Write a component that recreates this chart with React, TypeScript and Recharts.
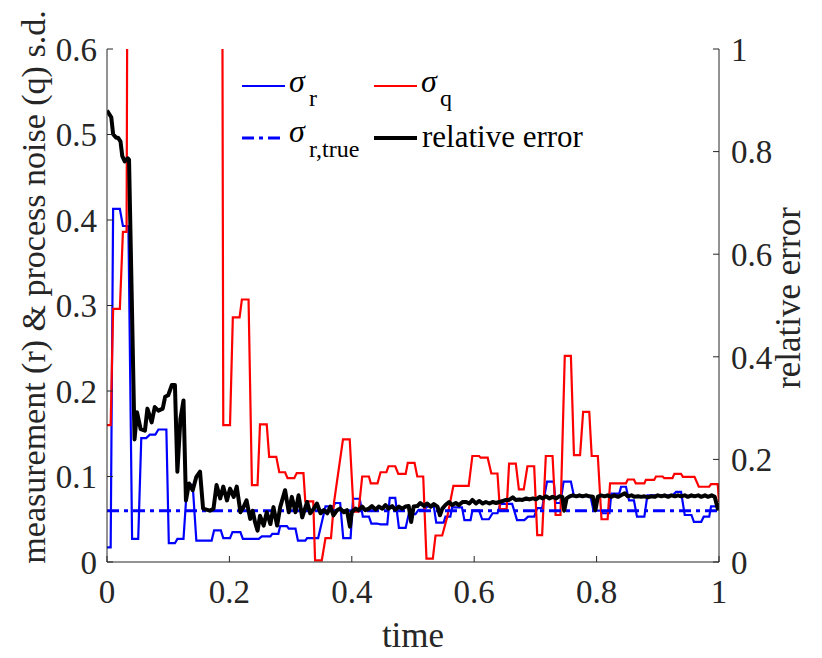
import React from "react";
import { LineChart, Line, XAxis, YAxis, Customized } from "recharts";

// axis ticks
const timeTicks = [0, 0.2, 0.4, 0.6, 0.8, 1];
const noiseTicks = [0, 0.1, 0.2, 0.3, 0.4, 0.5, 0.6];
const errorTicks = [0, 0.2, 0.4, 0.6, 0.8, 1];

// [time, s.d.] for the measurement noise estimate (left axis)
const sigmaR: [number, number][] = [
  [0, 0.017], [0.006, 0.017], [0.01, 0.413], [0.021, 0.413], [0.026, 0.393], [0.035, 0.393],
  [0.041, 0.027], [0.051, 0.027], [0.056, 0.145], [0.064, 0.145], [0.07, 0.149], [0.079, 0.149],
  [0.084, 0.155], [0.097, 0.155], [0.101, 0.022], [0.111, 0.022], [0.115, 0.027], [0.125, 0.027],
  [0.131, 0.092], [0.14, 0.09], [0.146, 0.025], [0.171, 0.025], [0.175, 0.037], [0.186, 0.037],
  [0.19, 0.028], [0.201, 0.028], [0.205, 0.035], [0.218, 0.035], [0.222, 0.027], [0.248, 0.027],
  [0.253, 0.03], [0.267, 0.03], [0.27, 0.033], [0.28, 0.033], [0.283, 0.042], [0.294, 0.042],
  [0.297, 0.039], [0.308, 0.039], [0.312, 0.025], [0.324, 0.025], [0.327, 0.028], [0.345, 0.028],
  [0.357, 0.065], [0.37, 0.065], [0.373, 0.069], [0.381, 0.069], [0.386, 0.028], [0.398, 0.028],
  [0.402, 0.074], [0.413, 0.074], [0.418, 0.053], [0.428, 0.053], [0.432, 0.045], [0.441, 0.045],
  [0.447, 0.044], [0.458, 0.044], [0.462, 0.075], [0.471, 0.075], [0.477, 0.04], [0.488, 0.04],
  [0.493, 0.056], [0.504, 0.056], [0.509, 0.061], [0.517, 0.061], [0.524, 0.065], [0.534, 0.065],
  [0.538, 0.046], [0.55, 0.046], [0.553, 0.053], [0.561, 0.053], [0.564, 0.064], [0.58, 0.064],
  [0.584, 0.049], [0.594, 0.049], [0.597, 0.06], [0.608, 0.06], [0.613, 0.05], [0.624, 0.05],
  [0.63, 0.057], [0.638, 0.057], [0.643, 0.068], [0.662, 0.068], [0.67, 0.049], [0.682, 0.049],
  [0.688, 0.053], [0.698, 0.053], [0.703, 0.063], [0.711, 0.063], [0.719, 0.094], [0.73, 0.094],
  [0.733, 0.069], [0.741, 0.069], [0.746, 0.094], [0.758, 0.094], [0.763, 0.077], [0.79, 0.077],
  [0.795, 0.06], [0.807, 0.06], [0.81, 0.057], [0.821, 0.057], [0.824, 0.08], [0.837, 0.08],
  [0.84, 0.088], [0.848, 0.088], [0.853, 0.072], [0.861, 0.072], [0.866, 0.053], [0.878, 0.053],
  [0.883, 0.078], [0.924, 0.078], [0.93, 0.082], [0.938, 0.082], [0.944, 0.055], [0.955, 0.055],
  [0.959, 0.047], [0.971, 0.047], [0.975, 0.053], [0.984, 0.053], [0.987, 0.065], [1, 0.065],
];

// [time, s.d.] for the process noise estimate (left axis, runs off the top early on)
const sigmaQ: [number, number][] = [
  [0, 0.16], [0.006, 0.16], [0.01, 0.296], [0.021, 0.296], [0.026, 0.386], [0.032, 0.386],
  [0.0345, 1.0], [0.1875, 1.0], [0.19, 0.16], [0.201, 0.16], [0.2056, 0.286], [0.2166, 0.286],
  [0.2204, 0.307], [0.2313, 0.307], [0.2368, 0.09], [0.246, 0.09], [0.25, 0.161], [0.261, 0.161],
  [0.265, 0.123], [0.2766, 0.123], [0.2815, 0.105], [0.291, 0.105], [0.295, 0.098], [0.306, 0.098],
  [0.31, 0.104], [0.321, 0.104], [0.324, 0.071], [0.337, 0.071], [0.34, 0.002], [0.351, 0.002],
  [0.357, 0.028], [0.366, 0.028], [0.371, 0.07], [0.3856, 0.1435], [0.3966, 0.1435], [0.403, 0.059],
  [0.411, 0.059], [0.417, 0.1], [0.428, 0.1], [0.431, 0.092], [0.442, 0.092], [0.447, 0.105],
  [0.4566, 0.105], [0.46, 0.112], [0.471, 0.112], [0.476, 0.103], [0.488, 0.103], [0.4915, 0.116],
  [0.5025, 0.116], [0.507, 0.1], [0.5167, 0.1], [0.522, 0.004], [0.5324, 0.004], [0.5368, 0.031],
  [0.5477, 0.031], [0.556, 0.053], [0.566, 0.089], [0.591, 0.089], [0.597, 0.124], [0.608, 0.124],
  [0.6105, 0.122], [0.622, 0.122], [0.628, 0.1035], [0.638, 0.1035], [0.642, 0.062], [0.653, 0.062],
  [0.657, 0.115], [0.668, 0.115], [0.673, 0.085], [0.681, 0.085], [0.687, 0.112], [0.698, 0.112],
  [0.703, 0.0315], [0.711, 0.0315], [0.717, 0.124], [0.728, 0.124], [0.733, 0.055], [0.741, 0.055],
  [0.748, 0.241], [0.758, 0.241], [0.763, 0.125], [0.773, 0.125], [0.778, 0.1755], [0.788, 0.1755],
  [0.792, 0.124], [0.802, 0.124], [0.808, 0.05], [0.818, 0.05], [0.822, 0.092], [0.848, 0.092],
  [0.851, 0.0965], [0.861, 0.0965], [0.864, 0.092], [0.878, 0.092], [0.8805, 0.096], [0.894, 0.096],
  [0.897, 0.1], [0.908, 0.1], [0.9105, 0.098], [0.924, 0.098], [0.927, 0.103], [0.938, 0.103],
  [0.941, 0.0996], [0.96, 0.0996], [0.967, 0.088], [0.984, 0.088], [0.987, 0.091], [0.998, 0.091],
  [1, 0.07],
];

// true measurement noise s.d.
const sigmaRTrue: [number, number][] = [
  [0, 0.06],
  [1, 0.06],
];

// [time, relative error] (right axis)
const relError: [number, number][] = [
  [0, 0.88], [0.007, 0.867], [0.01, 0.834], [0.015, 0.827], [0.018, 0.827], [0.022, 0.82],
  [0.025, 0.791], [0.029, 0.781], [0.034, 0.787], [0.036, 0.784], [0.045, 0.239], [0.049, 0.292],
  [0.055, 0.259], [0.062, 0.256], [0.066, 0.299], [0.073, 0.272], [0.078, 0.302], [0.084, 0.295],
  [0.091, 0.299], [0.095, 0.322], [0.1, 0.325], [0.106, 0.345], [0.111, 0.345], [0.115, 0.176],
  [0.12, 0.279], [0.125, 0.315], [0.129, 0.12], [0.134, 0.153], [0.14, 0.14], [0.146, 0.166],
  [0.152, 0.176], [0.157, 0.104], [0.168, 0.1], [0.174, 0.104], [0.179, 0.15], [0.185, 0.124],
  [0.19, 0.147], [0.196, 0.12], [0.201, 0.143], [0.207, 0.127], [0.212, 0.147], [0.218, 0.097],
  [0.223, 0.107], [0.228, 0.12], [0.234, 0.084], [0.238, 0.1], [0.242, 0.077], [0.246, 0.061],
  [0.25, 0.09], [0.256, 0.071], [0.261, 0.097], [0.267, 0.074], [0.272, 0.107], [0.278, 0.071],
  [0.283, 0.107], [0.291, 0.14], [0.297, 0.097], [0.302, 0.127], [0.308, 0.097], [0.313, 0.13],
  [0.319, 0.087], [0.327, 0.117], [0.332, 0.095], [0.338, 0.104], [0.343, 0.114], [0.349, 0.095],
  [0.354, 0.101], [0.36, 0.095], [0.365, 0.108], [0.37, 0.091], [0.376, 0.101], [0.381, 0.104],
  [0.387, 0.097], [0.392, 0.101], [0.397, 0.069], [0.4, 0.097], [0.406, 0.104], [0.411, 0.101],
  [0.417, 0.108], [0.422, 0.101], [0.428, 0.104], [0.433, 0.109], [0.439, 0.102], [0.444, 0.108],
  [0.45, 0.104], [0.455, 0.111], [0.46, 0.104], [0.466, 0.109], [0.471, 0.102], [0.477, 0.108],
  [0.482, 0.104], [0.488, 0.108], [0.493, 0.109], [0.497, 0.078], [0.501, 0.108], [0.507, 0.109],
  [0.512, 0.115], [0.518, 0.109], [0.523, 0.114], [0.529, 0.108], [0.534, 0.113], [0.54, 0.108],
  [0.544, 0.091], [0.548, 0.104], [0.553, 0.111], [0.559, 0.117], [0.564, 0.111], [0.57, 0.115],
  [0.575, 0.111], [0.581, 0.117], [0.587, 0.117], [0.592, 0.114], [0.597, 0.121], [0.603, 0.114],
  [0.608, 0.119], [0.614, 0.114], [0.619, 0.117], [0.625, 0.114], [0.63, 0.117], [0.636, 0.115],
  [0.641, 0.117], [0.647, 0.119], [0.652, 0.121], [0.657, 0.121], [0.663, 0.126], [0.668, 0.121],
  [0.674, 0.122], [0.679, 0.121], [0.685, 0.124], [0.69, 0.122], [0.696, 0.124], [0.701, 0.122],
  [0.707, 0.127], [0.712, 0.124], [0.717, 0.128], [0.723, 0.124], [0.728, 0.127], [0.734, 0.124],
  [0.739, 0.128], [0.744, 0.127], [0.747, 0.1], [0.751, 0.124], [0.756, 0.128], [0.761, 0.13],
  [0.767, 0.128], [0.772, 0.13], [0.777, 0.128], [0.783, 0.13], [0.788, 0.128], [0.794, 0.127],
  [0.798, 0.101], [0.802, 0.127], [0.807, 0.13], [0.813, 0.128], [0.818, 0.13], [0.824, 0.127],
  [0.829, 0.13], [0.835, 0.127], [0.84, 0.13], [0.846, 0.134], [0.851, 0.128], [0.857, 0.13],
  [0.862, 0.127], [0.868, 0.128], [0.873, 0.127], [0.878, 0.128], [0.884, 0.126], [0.889, 0.128],
  [0.895, 0.127], [0.9, 0.13], [0.906, 0.128], [0.911, 0.13], [0.917, 0.127], [0.922, 0.13],
  [0.928, 0.128], [0.933, 0.13], [0.938, 0.128], [0.944, 0.13], [0.949, 0.127], [0.955, 0.13],
  [0.96, 0.128], [0.966, 0.13], [0.971, 0.127], [0.977, 0.13], [0.982, 0.127], [0.988, 0.13],
  [0.993, 0.127], [0.998, 0.104], [1, 0.115],
];

const toPoints = (pairs: [number, number][]) => pairs.map(([t, v]) => ({ t, v }));

const AXIS = "#262626";
const SERIF = "'Liberation Serif', 'Times New Roman', serif";
const DASH_DOT = "12 5 4 5";

// MATLAB-style inward ticks: negative tick size, margin pushes labels back out
const tickStyle = { fill: AXIS, fontSize: 33, fontFamily: SERIF };

function Annotations() {
  return (
    <g fontFamily={SERIF} fill="#000">
      {/* axis titles */}
      <text x={413} y={647} textAnchor="middle" fontSize={35} fill={AXIS}>
        time
      </text>
      <text
        x={45}
        y={287}
        textAnchor="middle"
        fontSize={34}
        fill={AXIS}
        transform="rotate(-90 45 287)"
      >
        measurement (r) &amp; process noise (q) s.d.
      </text>
      <text
        x={800}
        y={298}
        textAnchor="middle"
        fontSize={35}
        fill={AXIS}
        transform="rotate(-90 800 298)"
      >
        relative error
      </text>

      {/* legend */}
      <line x1={242} x2={285} y1={86} y2={86} stroke="#0000ff" strokeWidth={2.2} />
      <text x={289} y={92} fontSize={32} fontStyle="italic">σ</text>
      <text x={309} y={106} fontSize={24}>r</text>

      <line x1={374} x2={417} y1={86} y2={86} stroke="#ff0000" strokeWidth={2.2} />
      <text x={421} y={92} fontSize={32} fontStyle="italic">σ</text>
      <text x={440} y={106} fontSize={24}>q</text>

      <line
        x1={242}
        x2={285}
        y1={138}
        y2={138}
        stroke="#0000ff"
        strokeWidth={3}
        strokeDasharray={DASH_DOT}
      />
      <text x={289} y={142} fontSize={32} fontStyle="italic">σ</text>
      <text x={309} y={157} fontSize={24}>r,true</text>

      <line x1={374} x2={417} y1={138} y2={138} stroke="#000" strokeWidth={4} />
      <text x={422} y={147} fontSize={31}>relative error</text>
    </g>
  );
}

export default function App() {
  return (
    <div style={{ position: "absolute", left: 0, top: 0, width: 822, height: 658, background: "#fff" }}>
      <LineChart width={822} height={658} margin={{ top: 49, right: 0, bottom: 0, left: 0 }}>
        <XAxis
          type="number"
          dataKey="t"
          domain={[0, 1]}
          ticks={timeTicks}
          allowDataOverflow
          height={96}
          tick={tickStyle}
          tickSize={-6}
          tickMargin={24}
          axisLine={{ stroke: AXIS }}
          tickLine={{ stroke: AXIS }}
        />
        <YAxis
          yAxisId="left"
          domain={[0, 0.6]}
          ticks={noiseTicks}
          allowDataOverflow
          width={107}
          tick={tickStyle}
          tickSize={-6}
          tickMargin={16}
          axisLine={{ stroke: AXIS }}
          tickLine={{ stroke: AXIS }}
        />
        <YAxis
          yAxisId="right"
          orientation="right"
          domain={[0, 1]}
          ticks={errorTicks}
          allowDataOverflow
          width={103}
          tick={tickStyle}
          tickSize={-6}
          tickMargin={18}
          axisLine={{ stroke: AXIS }}
          tickLine={{ stroke: AXIS }}
        />
        <Line
          yAxisId="left"
          data={toPoints(sigmaR)}
          dataKey="v"
          type="linear"
          stroke="#0000ff"
          strokeWidth={2.2}
          dot={false}
          isAnimationActive={false}
        />
        <Line
          yAxisId="left"
          data={toPoints(sigmaQ)}
          dataKey="v"
          type="linear"
          stroke="#ff0000"
          strokeWidth={2.2}
          dot={false}
          isAnimationActive={false}
        />
        <Line
          yAxisId="left"
          data={toPoints(sigmaRTrue)}
          dataKey="v"
          type="linear"
          stroke="#0000ff"
          strokeWidth={3}
          strokeDasharray={DASH_DOT}
          dot={false}
          isAnimationActive={false}
        />
        <Line
          yAxisId="right"
          data={toPoints(relError)}
          dataKey="v"
          type="linear"
          stroke="#000000"
          strokeWidth={4}
          strokeLinejoin="round"
          dot={false}
          isAnimationActive={false}
        />
        <Customized component={Annotations} />
      </LineChart>
    </div>
  );
}
